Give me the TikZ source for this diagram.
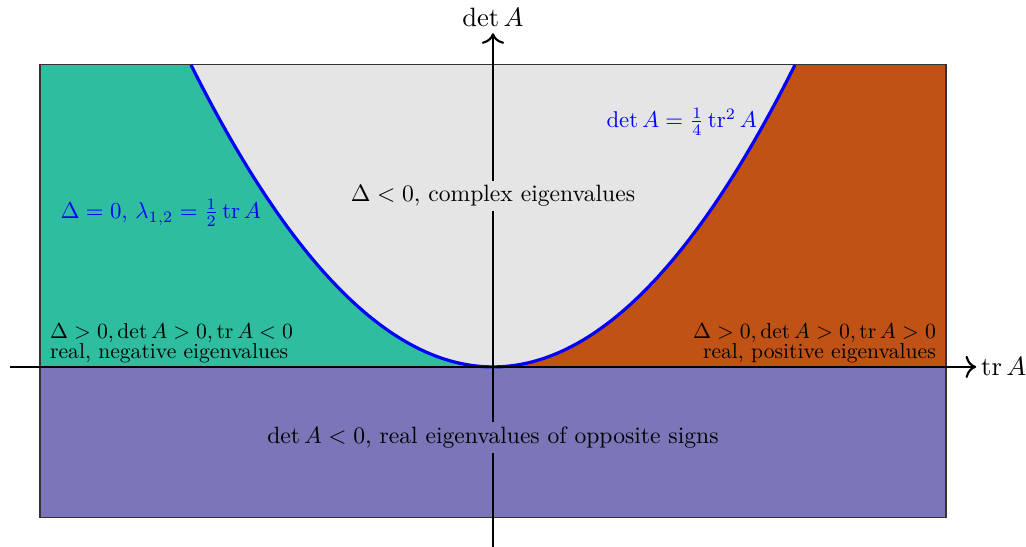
\documentclass[tikz,border=0pt]{standalone}
\usepackage{amsmath}
\usepackage{xcolor}
\definecolor{RealNeg}{RGB}{46,189,158}
\definecolor{RealPos}{RGB}{192,82,22}
\definecolor{Saddle}{RGB}{122,118,183}
\definecolor{Complex}{RGB}{229,229,229}
\usetikzlibrary{arrows.meta}

\begin{document}
\begin{tikzpicture}[x=1cm,y=1cm,
      border/.style={draw=black!80,thin},
      curve/.style={blue,very thick},
      axis/.style={-{To[length=4pt]},thick},
      label/.style={align=center,inner sep=2pt,scale=0.89,transform shape},
      cornerlabel/.style={inner sep=1pt,scale=0.815,transform shape},
      curvelabel/.style={text=blue,scale=0.86,transform shape}]
    \useasboundingbox (-6.53,-2.384) rectangle (7.06,4.86);
    % regions
    \fill[Saddle] (-6,-2) rectangle (6,0);
    \fill[Complex] (-6,0) rectangle (6,4);
    \fill[RealNeg] (-6,0) -- (-6,4) -- (-4,4)
      -- plot[domain=-4:0,samples=80] (\x,{\x*\x/4}) -- cycle;
    \fill[RealPos] (0,0) -- plot[domain=0:4,samples=80] (\x,{\x*\x/4})
      -- (6,4) -- (6,0) -- cycle;
    \draw[border] (-6,-2) rectangle (6,4);
    \draw[curve] plot[domain=-4:4,samples=120] (\x,{\x*\x/4});
    % axes
    \coordinate (xstart) at (-6.4,0);
    \coordinate (xend) at (6.4,0);
    \coordinate (ystart) at (0,-2.4);
    \coordinate (yend) at (0,4.42);
    \draw[axis] (xstart) -- (xend) node[right,inner sep=1.5pt] (trlabel) {$\operatorname{tr} A$};
    \draw[axis] (ystart) -- (yend) node[above,inner sep=2pt] (detlabel) {$\det A$};
    % texts
    \node[label,fill=Complex] (complex) at (0,2.265) {$\Delta<0$, complex eigenvalues};
    \node[label,fill=Saddle] (saddle) at (0,-0.94) {$\det A<0$, real eigenvalues of opposite signs};
    \node[cornerlabel,anchor=south west,align=left] (negative) at (-5.9,0.02)
      {$\Delta>0, \det A>0, \operatorname{tr} A<0$\\[-3pt] real, negative eigenvalues};
    \node[cornerlabel,anchor=south east,align=right] (positive) at (5.9,0.02)
      {$\Delta>0, \det A>0, \operatorname{tr} A>0$\\[-3pt] real, positive eigenvalues};
    \node[curvelabel] (repeated) at (-4.4,2.04) {$\Delta=0,\,\lambda_{1,2}=\frac12\operatorname{tr}A$};
    \node[curvelabel] (parabola) at (2.5,3.245) {$\det A=\frac14\operatorname{tr}^2 A$};
  \end{tikzpicture}
\end{document}
